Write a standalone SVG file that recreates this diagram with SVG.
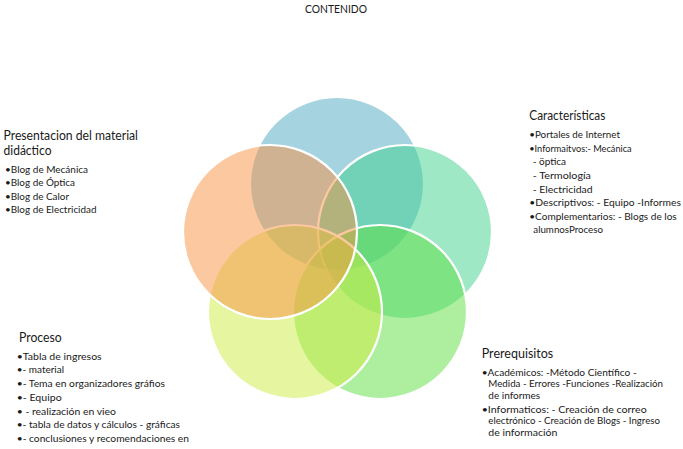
<svg xmlns="http://www.w3.org/2000/svg" width="683" height="449" viewBox="0 0 683 449">
<style>
.c{stroke:#ffffff;stroke-width:2.2;fill-opacity:0.5}
text{font-family:Lato,"Open Sans","DejaVu Sans",sans-serif;fill:#1a1a1a}
.t{font-size:12.5px}
.b{font-size:10px}
.h{font-size:11px}
</style>
<rect width="683" height="449" fill="#ffffff"/>
<g id="venn">
<g id="node-top"><circle class="c" cx="337" cy="184" r="87" fill="#4ba7c1"/></g>
<g id="node-right"><circle class="c" cx="405" cy="232" r="87" fill="#3dd18d"/></g>
<g id="node-bottom-right"><circle class="c" cx="380" cy="312" r="87" fill="#5ddf3f"/></g>
<g id="node-bottom-left"><circle class="c" cx="295" cy="312" r="87" fill="#cdeb41"/></g>
<g id="node-left"><circle class="c" cx="270" cy="232" r="87" fill="#f79141"/></g>
</g>
<g id="connectors"/>
<g id="title"><text class="h" x="336" y="13" text-anchor="middle" textLength="62" lengthAdjust="spacingAndGlyphs">CONTENIDO</text></g>
<g id="label-presentacion">
<text class="t" x="3.5" y="140" textLength="134.5" lengthAdjust="spacingAndGlyphs">Presentacion del material</text>
<text class="t" x="3.5" y="154.5" textLength="48" lengthAdjust="spacingAndGlyphs">didáctico</text>
<text class="b" x="5" y="172.5" textLength="83" lengthAdjust="spacingAndGlyphs">•Blog de Mecánica</text>
<text class="b" x="5" y="186" textLength="70" lengthAdjust="spacingAndGlyphs">•Blog de Óptica</text>
<text class="b" x="5" y="199.5" textLength="64" lengthAdjust="spacingAndGlyphs">•Blog de Calor</text>
<text class="b" x="5" y="213" textLength="91.5" lengthAdjust="spacingAndGlyphs">•Blog de Electricidad</text>
</g>
<g id="label-caracteristicas">
<text class="t" x="529.3" y="120" textLength="76" lengthAdjust="spacingAndGlyphs">Características</text>
<text class="b" x="529.3" y="138" textLength="90.7" lengthAdjust="spacingAndGlyphs">•Portales de Internet</text>
<text class="b" x="529.3" y="151.5" textLength="102.4" lengthAdjust="spacingAndGlyphs">•Informaitvos:- Mecánica</text>
<text class="b" x="532.7" y="165">- öptica</text>
<text class="b" x="532.7" y="178.8" textLength="58.3" lengthAdjust="spacingAndGlyphs">- Termología</text>
<text class="b" x="532.7" y="192.5" textLength="60" lengthAdjust="spacingAndGlyphs">- Electricidad</text>
<text class="b" x="529.3" y="206.3" textLength="151.7" lengthAdjust="spacingAndGlyphs">•Descriptivos: - Equipo -Informes</text>
<text class="b" x="529.3" y="219.8" textLength="147.4" lengthAdjust="spacingAndGlyphs">•Complementarios: - Blogs de los</text>
<text class="b" x="533.3" y="233" textLength="69.7" lengthAdjust="spacingAndGlyphs">alumnosProceso</text>
</g>
<g id="label-proceso">
<text class="t" x="19" y="342" textLength="42.7" lengthAdjust="spacingAndGlyphs">Proceso</text>
<text class="b" x="16.7" y="359.5" textLength="85" lengthAdjust="spacingAndGlyphs">•Tabla de ingresos</text>
<text class="b" x="16.7" y="373.3">•- material</text>
<text class="b" x="16.7" y="387" textLength="148.3" lengthAdjust="spacingAndGlyphs">•- Tema en organizadores gráfios</text>
<text class="b" x="16.7" y="400.8" textLength="45" lengthAdjust="spacingAndGlyphs">•- Equipo</text>
<text class="b" x="16.7" y="414.5" textLength="99.3" lengthAdjust="spacingAndGlyphs">• - realización en vieo</text>
<text class="b" x="16.7" y="428.3" textLength="163.3" lengthAdjust="spacingAndGlyphs">•- tabla de datos y cálculos - gráficas</text>
<text class="b" x="16.7" y="442" textLength="172.3" lengthAdjust="spacingAndGlyphs">•- conclusiones y recomendaciones en</text>
</g>
<g id="label-prerequisitos">
<text class="t" x="481.7" y="358" textLength="71.6" lengthAdjust="spacingAndGlyphs">Prerequisitos</text>
<text class="b" x="481.7" y="375.5" textLength="155" lengthAdjust="spacingAndGlyphs">•Académicos: -Método Científico -</text>
<text class="b" x="488.3" y="387.3" textLength="174.7" lengthAdjust="spacingAndGlyphs">Medida - Errores -Funciones -Realización</text>
<text class="b" x="488.3" y="399">de informes</text>
<text class="b" x="481.7" y="412.5" textLength="165" lengthAdjust="spacingAndGlyphs">•Informaticos: - Creación de correo</text>
<text class="b" x="488.3" y="424.2" textLength="171.7" lengthAdjust="spacingAndGlyphs">electrónico - Creación de Blogs - Ingreso</text>
<text class="b" x="488.3" y="436" textLength="69" lengthAdjust="spacingAndGlyphs">de información</text>
</g>
</svg>
